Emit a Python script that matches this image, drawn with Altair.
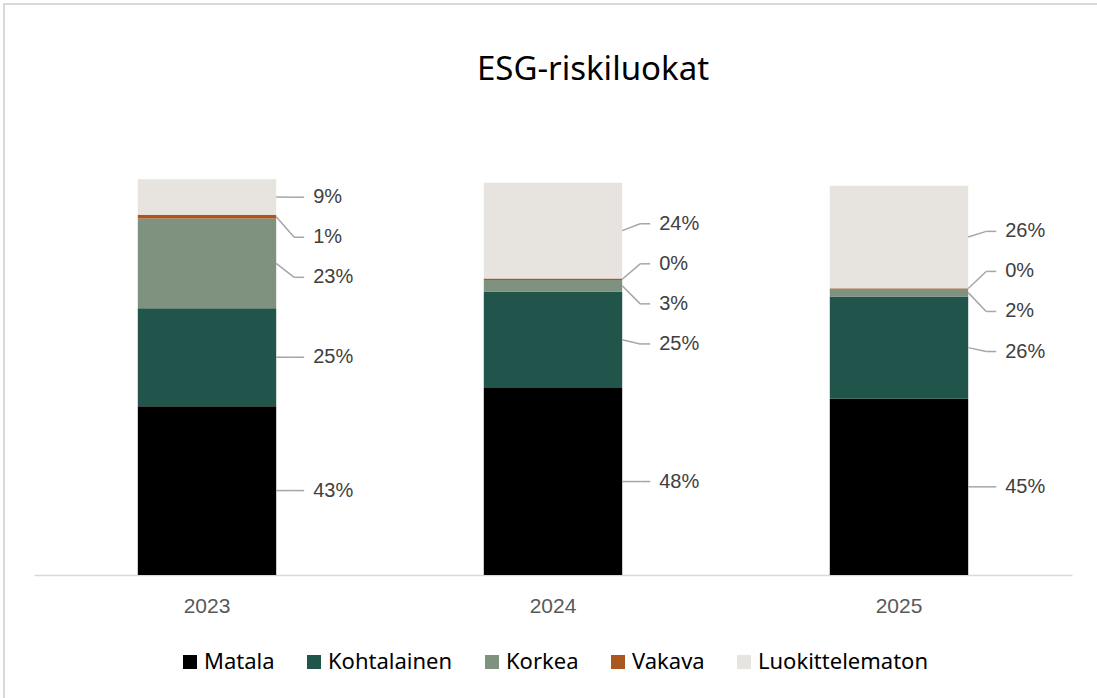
import altair as alt
import pandas as pd

# ---- data ----
years = ["2023", "2024", "2025"]
categories = ["Matala", "Kohtalainen", "Korkea", "Vakava", "Luokittelematon"]
colors = ["#000000", "#21544a", "#7f917f", "#a9561f", "#e7e3de"]
matala = [43.0, 47.6, 44.9]
kohtalainen = [24.9, 24.6, 26.0]
korkea = [22.9, 2.9, 2.0]
vakava = [0.9, 0.4, 0.1]
luokittelematon = [9.1, 24.4, 26.1]
title_text = "ESG-riskiluokat"

series = [matala, kohtalainen, korkea, vakava, luokittelematon]

rows = []
for yi, yr in enumerate(years):
    for ci, cat in enumerate(categories):
        rows.append({"year": yr, "cat": cat, "idx": ci, "value": series[ci][yi]})
df = pd.DataFrame(rows)

# label placement: segment midpoints, overlapping labels spread apart
GAP = 10.2
totals = [sum(s[i] for s in series) for i in range(len(years))]
TOP_LIMIT = max(totals) - 4.6


def spread(mids):
    groups = [[i] for i in range(len(mids))]

    def place(g):
        c = sum(mids[i] for i in g) / len(g)
        n = len(g)
        return [c + (k - (n - 1) / 2) * GAP for k in range(n)]

    changed = True
    while changed:
        changed = False
        for k in range(len(groups) - 1):
            a, b = place(groups[k]), place(groups[k + 1])
            if b[0] - a[-1] < GAP - 1e-9:
                groups[k] = groups[k] + groups[k + 1]
                del groups[k + 1]
                changed = True
                break
    out = []
    for g in groups:
        out += place(g)
    out[-1] = min(out[-1], TOP_LIMIT)
    for i in range(len(out) - 2, -1, -1):
        out[i] = min(out[i], out[i + 1] - GAP)
    return out


lab_rows = []
for yi, yr in enumerate(years):
    cum = 0
    mids = []
    for ci in range(len(categories)):
        v = series[ci][yi]
        mids.append(cum + v / 2)
        cum += v
    pos = spread(mids)
    for ci, cat in enumerate(categories):
        v = series[ci][yi]
        lab_rows.append({"year": yr, "cat": cat, "mid": mids[ci],
                         "label_y": pos[ci], "text": f"{round(v)}%"})
lab = pd.DataFrame(lab_rows)

yscale = alt.Scale(domain=[0, 110], nice=False, zero=True)
xscale = alt.Scale(paddingInner=0.6, paddingOuter=0.3)

x_axis = alt.Axis(title=None, labelAngle=0, ticks=False, grid=False,
                  domainColor="#d9d9d9", domainWidth=1.5,
                  labelFont="Liberation Sans", labelFontSize=21,
                  labelColor="#595959", labelPadding=20)

border = alt.Chart(alt.Data(values=[{}])).mark_rect(
    fillOpacity=0, stroke="#d9d9d9", strokeWidth=2
).encode(x=alt.value(-30), x2=alt.value(1200), y=alt.value(-139), y2=alt.value(700))

title = alt.Chart(alt.Data(values=[{"t": title_text}])).mark_text(
    font="Noto Sans", fontSize=33, color="#000000", align="center", baseline="middle"
).encode(x=alt.value(559), y=alt.value(-73), text="t:N")

bars = alt.Chart(df).mark_bar().encode(
    x=alt.X("year:N", scale=xscale, axis=x_axis),
    y=alt.Y("value:Q", stack="zero", scale=yscale, axis=None),
    color=alt.Color("cat:N", scale=alt.Scale(domain=categories, range=colors),
                    legend=alt.Legend(title=None, orient="none", legendX=145, legendY=508,
                                      direction="horizontal", columns=5,
                                      symbolType="square", symbolSize=196,
                                      symbolStrokeWidth=0, labelFont="Noto Sans",
                                      labelFontSize=22, labelColor="#000000",
                                      columnPadding=28, labelOffset=3, padding=0,
                                      labelLimit=400)),
    order=alt.Order("idx:Q", sort="ascending"),
)

diag = alt.Chart(lab).mark_rule(color="#a6a6a6", strokeWidth=1.5, x2Offset=18).encode(
    x=alt.X("year:N", bandPosition=1, scale=xscale),
    x2=alt.X2("year:N", bandPosition=1),
    y=alt.Y("mid:Q", scale=yscale, axis=None),
    y2="label_y:Q",
)

horiz = alt.Chart(lab).mark_rule(color="#a6a6a6", strokeWidth=1.5, xOffset=18, x2Offset=28).encode(
    x=alt.X("year:N", bandPosition=1, scale=xscale),
    x2=alt.X2("year:N", bandPosition=1),
    y=alt.Y("label_y:Q", scale=yscale, axis=None),
)

labels = alt.Chart(lab).mark_text(align="left", baseline="middle", dx=37,
                                  font="Liberation Sans", fontSize=20,
                                  color="#404040").encode(
    x=alt.X("year:N", bandPosition=1, scale=xscale),
    y=alt.Y("label_y:Q", scale=yscale, axis=None),
    text="text:N",
)

chart = alt.layer(border, title, bars, diag, horiz, labels).properties(
    width=1038, height=432,
    autosize=alt.AutoSizeParams(type="none"),
    padding={"left": 34, "top": 143, "right": 25, "bottom": 123},
).configure(background="white").configure_view(strokeWidth=0, stroke="transparent")

chart.save("out.html", embed_options={"renderer": "svg", "actions": False})
